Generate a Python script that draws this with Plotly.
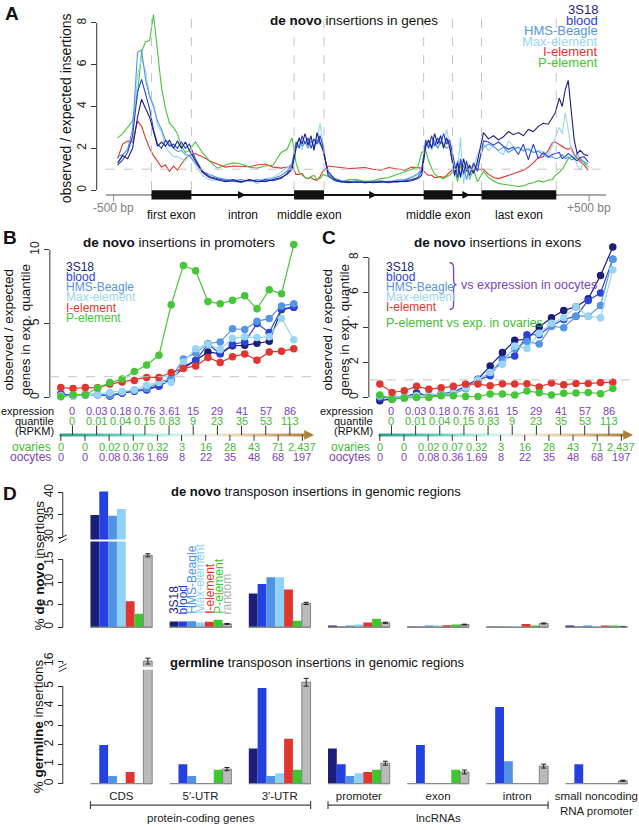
import plotly.graph_objects as go

W, H = 639, 830
FONT = "Liberation Sans, Arial, Helvetica, sans-serif"
NARROW = "Liberation Sans Narrow, Liberation Sans, Arial, sans-serif"


def X(px):
    return px / W


def Y(py):
    return 1 - py / H


# ------------------------------------------------------------------ data
series = ["3S18", "blood", "HMS-Beagle", "Max-element", "I-element", "P-element"]
c_3s18 = "#1b1f78"
c_blood = "#2a43d8"
c_hms = "#5596e4"
c_max = "#9bd5f4"
c_iel = "#e3352f"
c_pel = "#45c638"
c_rand = "#b9bbbb"
PURPLE = "#7c3fc6"
GREEN_TXT = "#44bb33"

# Panel A: metagene position (-500 bp = 0, +500 bp = 477)
gene_pos = [4, 9, 14, 19, 24, 28, 32, 36,
            40, 44, 48, 52, 56, 60, 64, 68, 72, 76,
            82, 89, 96, 104, 112, 120, 128, 136, 144, 152, 160, 168, 174, 179,
            183, 186, 189, 192, 195, 198, 201, 204, 207, 210,
            215, 222, 229, 236, 244, 252, 260, 268, 276, 284, 292, 299, 305, 309,
            313, 316, 319, 322, 325, 328, 331, 334, 337,
            342, 345, 348, 351, 354, 357, 361, 365,
            371, 376, 381, 386, 391, 396, 401, 406, 411, 416, 421, 426, 431, 436, 440, 443,
            447, 450, 453, 456, 459, 462, 465, 468, 472, 476]
exon_starts = [38, 181, 311, 369]
exon_ends = [78, 211, 340, 444]
exon_labels = ["first exon", "middle exon", "middle exon", "last exon"]
flank_ticks = [0, 477]
flank_labels = ["-500 bp", "+500 bp"]

a_pelem = [2.5, 2.7, 3.0, 3.3, 4.6, 6.6, 7.1, 7.15,
           8.4, 6.6, 4.9, 3.9, 3.2, 3.0, 2.7, 2.1, 1.8, 1.9,
           2.3, 1.8, 1.4, 1.05, 1.2, 1.3, 1.25, 1.1, 1.05, 1.15, 1.2, 1.8, 1.95, 2.5,
           1.3, 0.85, 0.7, 0.6, 0.55, 0.65, 0.7, 0.5, 0.55, 0.75,
           0.65, 0.45, 0.4, 0.5, 0.5, 0.42, 0.45, 0.55, 0.6, 0.75, 0.9, 1.0, 1.1, 1.8,
           1.9, 1.4, 1.05, 0.75, 0.65, 0.6, 0.55, 0.65, 0.7,
           1.0, 0.4, 1.2, 0.7, 1.3, 0.5, 1.0, 0.4,
           0.9, 0.6, 0.45, 0.32, 0.28, 0.25, 0.22, 0.17, 0.2, 0.3, 0.35, 0.45, 0.38, 0.48, 0.5, 0.7,
           0.85, 1.0, 1.25, 1.5, 1.6, 1.55, 1.5, 1.45, 1.3, 1.1]
a_ielem = [1.5, 2.2, 2.35, 2.3, 3.3, 3.05, 2.5, 2.0,
           1.65, 1.4, 1.1, 1.2, 0.9, 1.15, 0.95, 1.25, 1.5, 1.65,
           1.75, 1.6, 1.4, 1.25, 1.1, 1.15, 1.15, 1.12, 1.2, 1.25, 1.1, 1.05, 1.1, 1.2,
           0.75, 0.75, 0.8, 0.6, 0.55, 0.6, 0.5, 0.48, 0.65, 0.9,
           1.15, 1.1, 1.05, 1.03, 1.05, 1.08, 1.0, 0.95, 1.08, 1.0, 0.95, 1.1, 1.08, 1.05,
           0.8, 0.7, 0.72, 0.6, 0.62, 0.65, 0.6, 0.7, 0.85,
           1.1, 0.9, 1.3, 0.8, 1.0, 0.7, 1.2, 1.0,
           1.0, 0.75, 0.6, 0.55, 0.62, 0.7, 0.78, 0.87, 0.95, 1.1, 1.3, 1.55, 1.6, 1.9, 2.25, 2.3,
           2.2, 2.1, 2.0, 1.95, 2.05, 1.7, 1.55, 1.35, 1.2, 0.95]
a_3s18 = [1.3, 1.65, 1.5, 2.0, 3.5, 4.35, 3.9, 3.5,
          2.8, 2.1, 2.3, 2.1, 2.4, 2.0, 2.35, 2.0, 2.3, 1.9,
          1.4, 0.85, 0.6, 0.5, 0.4, 0.45, 0.38, 0.5, 0.42, 0.4, 0.5, 0.6, 0.75, 1.0,
          2.0, 2.5, 2.2, 2.7, 2.15, 2.6, 1.9, 2.75, 2.3, 1.9,
          0.9, 0.5, 0.4, 0.35, 0.4, 0.35, 0.38, 0.4, 0.35, 0.42, 0.4, 0.45, 0.55, 0.7,
          2.1, 2.4, 2.0, 2.7, 2.2, 2.6, 2.0, 2.5, 2.1,
          0.7, 1.3, 0.6, 1.5, 0.9, 1.2, 0.8, 1.4,
          2.75, 2.45, 2.6, 2.4, 2.55, 2.8, 2.65, 2.75, 2.6, 2.9, 2.8, 3.05, 3.2, 3.15, 3.5, 3.7,
          4.4, 4.0, 4.8, 5.25, 3.8, 2.4, 1.75, 1.9, 1.7, 1.65]
a_blood = [1.2, 1.45, 1.8, 2.6, 4.7, 5.3, 4.6, 3.9,
           2.9, 2.2, 2.0, 2.4, 2.1, 2.2, 2.0, 2.3, 2.0, 2.2,
           1.5, 0.9, 0.65, 0.55, 0.45, 0.5, 0.4, 0.48, 0.4, 0.5, 0.45, 0.55, 0.8, 1.15,
           2.3, 2.0, 2.6, 2.2, 2.5, 2.0, 2.45, 2.2, 2.6, 2.1,
           0.7, 0.45, 0.38, 0.42, 0.36, 0.4, 0.35, 0.38, 0.42, 0.38, 0.45, 0.5, 0.6, 0.9,
           2.4, 2.0, 2.6, 2.1, 2.5, 2.2, 2.7, 2.2, 2.4,
           1.2, 0.6, 1.5, 0.8, 1.4, 0.7, 1.3, 0.9,
           2.35, 2.3, 2.15, 2.3, 2.1, 1.95, 2.05, 1.7, 2.2, 1.45, 2.2, 1.5, 1.8, 1.6, 1.7, 1.75,
           1.8, 1.5, 1.6, 1.75, 1.65, 1.5, 1.4, 1.55, 1.6, 1.35]
a_hms = [1.6, 1.7, 1.95, 2.9, 6.6, 6.7, 5.3, 4.5,
         4.0, 3.3, 2.9, 2.4, 2.2, 2.0, 1.85, 1.9, 1.7, 1.65,
         1.3, 0.9, 0.75, 0.6, 0.5, 0.45, 0.5, 0.42, 0.5, 0.45, 0.55, 0.7, 0.9, 1.3,
         2.2, 2.4, 2.1, 2.3, 2.0, 2.35, 2.1, 2.4, 2.2, 2.0,
         0.8, 0.55, 0.45, 0.4, 0.45, 0.38, 0.42, 0.45, 0.4, 0.48, 0.5, 0.6, 0.75, 1.0,
         2.2, 2.3, 2.1, 2.4, 2.0, 2.3, 2.2, 2.0, 2.1,
         0.9, 1.4, 0.7, 1.2, 0.5, 1.1, 0.8, 1.2,
         2.05, 2.2, 2.1, 1.9, 2.05, 1.8, 1.95, 2.05, 1.9, 1.95, 1.8, 1.85, 1.7, 1.55, 1.6, 1.5,
         1.55, 1.7, 1.5, 1.6, 1.45, 1.5, 1.75, 1.5, 1.35, 1.25]
a_max = [1.2, 1.7, 1.9, 2.5, 5.5, 6.3, 5.7, 4.5,
         4.1, 3.1, 2.8, 2.1, 1.8, 1.6, 1.6, 1.5, 1.4, 1.7,
         1.2, 0.7, 0.5, 0.45, 0.55, 0.4, 0.35, 0.5, 0.3, 0.55, 0.6, 0.85, 1.1, 1.2,
         2.0, 2.2, 1.9, 2.4, 2.1, 2.5, 2.0, 2.3, 3.2, 2.2,
         0.75, 0.5, 0.42, 0.38, 0.42, 0.35, 0.4, 0.42, 0.38, 0.45, 0.5, 0.65, 0.8, 1.0,
         2.0, 2.2, 1.9, 2.3, 2.0, 2.4, 2.1, 2.9, 2.2,
         0.6, 1.0, 2.5, 0.3, 1.3, 0.6, 1.1, 1.7,
         2.2, 1.9, 2.1, 1.85, 1.7, 2.35, 2.1, 2.0, 1.85, 2.0, 1.8, 1.9, 1.85, 1.7, 2.1, 2.45,
         3.0, 2.7, 3.7, 2.9, 1.9, 1.6, 1.2, 0.95, 1.4, 1.1]

# Panels B/C: 20 expression quantiles (5 % each)
quantile = list(range(20))
b_3s18 = [0.2, 0.1, 0.2, 0.2, 0.1, 0.3, 0.45, 0.55, 0.8, 1.25, 2.0, 2.5, 3.08, 2.95, 3.5, 3.53, 3.66, 3.8, 5.95, 6.1]
b_blood = [0.25, 0.12, 0.2, 0.18, 0.12, 0.3, 0.42, 0.5, 0.75, 1.2, 2.1, 2.5, 3.6, 2.98, 3.6, 3.75, 5.0, 4.4, 6.0, 6.1]
b_hms = [0.15, 0.1, 0.15, 0.2, 0.15, 0.35, 0.5, 0.6, 1.0, 1.3, 2.6, 3.0, 3.65, 3.75, 4.65, 4.6, 5.15, 5.35, 6.2, 6.35]
b_max = [0.1, 0.08, 0.2, 0.2, 0.35, 0.4, 0.5, 0.83, 1.0, 1.0, 2.4, 3.3, 3.6, 3.25, 4.0, 4.1, 4.05, 4.1, 5.35, 3.9]
b_ielem = [0.67, 0.6, 0.67, 0.65, 0.9, 1.05, 1.15, 1.35, 1.35, 1.69, 1.96, 2.13, 2.7, 2.36, 2.76, 2.94, 2.52, 3.08, 3.12, 3.3]
b_pelem = [0.05, 0.18, 0.18, 0.63, 1.0, 1.24, 1.75, 2.2, 2.85, 6.27, 8.94, 8.58, 6.5, 6.34, 6.58, 6.88, 6.0, 7.3, 7.03, 10.36]
b_ref = 1.4

c_3s18_v = [-0.19, -0.1, 0.0, 0.25, 0.1, 0.15, 0.25, 0.66, 1.04, 1.8, 2.56, 3.26, 3.32, 4.02, 4.55, 4.97, 5.18, 5.63, 6.96, 8.59]
c_blood_v = [-0.05, 0.0, 0.05, 0.2, 0.1, 0.2, 0.3, 0.6, 1.0, 1.23, 2.18, 2.37, 3.58, 3.58, 4.1, 4.45, 4.64, 5.54, 5.97, 7.9]
c_hms_v = [0.05, 0.0, 0.0, 0.1, 0.1, 0.2, 0.2, 0.5, 1.0, 1.42, 2.14, 2.79, 3.2, 3.05, 4.07, 3.98, 4.64, 4.64, 5.25, 7.9]
c_max_v = [0.1, 0.0, 0.05, 0.1, 0.15, 0.15, 0.25, 0.55, 1.0, 1.42, 1.9, 2.94, 2.79, 3.66, 4.23, 4.55, 5.18, 4.64, 4.55, 7.3]
c_ielem_v = [0.76, 0.28, 0.38, 0.63, 0.47, 0.55, 0.63, 0.76, 0.76, 0.66, 0.78, 0.76, 0.78, 0.6, 0.82, 0.72, 0.8, 0.8, 0.85, 0.87]
c_pelem_v = [0.13, -0.1, -0.05, 0.0, 0.0, 0.1, 0.1, 0.05, 0.05, 0.2, 0.19, 0.13, 0.36, 0.27, 0.13, 0.23, 0.25, 0.28, 0.21, 0.51]
c_ref = 1.0

# expression-quantile axis labels (RPKM)
mid_oocytes = ["0", "0.03", "0.18", "0.76", "3.61", "15", "29", "41", "57", "86"]
mid_ovaries = ["0", "0.01", "0.04", "0.15", "0.83", "9", "23", "35", "53", "113"]
bound_ovaries = ["0", "0", "0.02", "0.07", "0.32", "3", "16", "28", "43", "71", "2,437"]
bound_oocytes = ["0", "0", "0.08", "0.36", "1.69", "8", "22", "35", "48", "68", "197"]

# Panel D
regions = ["CDS", "5′-UTR", "3′-UTR", "promoter", "exon", "intron", "small noncoding<br>RNA promoter"]
d_names = ["3S18", "blood", "HMS-Beagle", "Max-element", "I-element", "P-element", "random"]
dn_3s18 = [35.0, 1.3, 7.5, 0.3, 0.15, 0.08, 0.25]
dn_blood = [40.2, 1.3, 9.6, 0.1, 0.15, 0.08, 0.12]
dn_hms = [34.8, 1.35, 11.1, 0.35, 0.2, 0.1, 0.35]
dn_max = [36.3, 1.05, 11.1, 0.6, 0.2, 0.1, 0.15]
dn_iel = [5.8, 1.2, 8.4, 1.05, 0.45, 0.75, 0.2]
dn_pel = [3.0, 1.65, 1.45, 1.9, 0.6, 0.3, 0.25]
dn_rand = [16.0, 0.75, 5.3, 1.0, 0.6, 0.85, 0.15]
dn_rand_err = [0.35, 0.1, 0.25, 0.12, 0.08, 0.1, 0.04]

gl_3s18 = [0, 0, 1.8, 1.8, 0, 0, 0]
gl_blood = [1.98, 1.0, 4.9, 1.0, 1.98, 3.93, 1.0]
gl_hms = [0.4, 0.4, 0.4, 0.4, 0, 1.15, 0]
gl_max = [0, 0, 0.53, 0.53, 0, 0, 0]
gl_iel = [0.6, 0, 2.3, 0.6, 0, 0, 0]
gl_pel = [0, 0.72, 0.72, 0.72, 0.72, 0, 0]
gl_rand = [16.0, 0.75, 5.2, 1.05, 0.6, 0.9, 0.15]
gl_rand_err = [0.15, 0.08, 0.2, 0.1, 0.1, 0.1, 0.03]

region_groups = ["protein-coding genes", "lncRNAs"]
region_group_span = [(0, 2), (3, 5)]

# ------------------------------------------------------------------ figure
fig = go.Figure()
ann = []
shapes = []


def text(x, y, s, size=12, color="#222", xanchor="center", yanchor="middle",
         xref="paper", yref="paper", angle=0, family=FONT):
    ann.append(dict(x=x, y=y, text=s, xref=xref, yref=yref, showarrow=False,
                    xanchor=xanchor, yanchor=yanchor, textangle=angle,
                    font=dict(size=size, color=color, family=family)))


def line(x0, y0, x1, y1, xref="paper", yref="paper", color="#333", width=1, dash=None):
    d = dict(type="line", x0=x0, y0=y0, x1=x1, y1=y1, xref=xref, yref=yref,
             line=dict(color=color, width=width))
    if dash:
        d["line"]["dash"] = dash
    shapes.append(d)


# ---------------- Panel A
for vals, col in [(a_ielem, c_iel), (a_pelem, c_pel), (a_max, c_max),
                  (a_hms, c_hms), (a_blood, c_blood), (a_3s18, c_3s18)]:
    fig.add_trace(go.Scatter(x=gene_pos, y=vals, mode="lines",
                             line=dict(color=col, width=1.1),
                             xaxis="x", yaxis="y", hoverinfo="skip", showlegend=False))

track_y = -0.23
ax_left, ax_right = flank_ticks[0] - 8, flank_ticks[1] + 17
line(ax_left, track_y, ax_right, track_y, "x", "y", "#8c8c8c", 1.5)
for t in flank_ticks:
    line(t, track_y, t, track_y - 0.32, "x", "y", "#8c8c8c", 1)
line(ax_left, 1, ax_right, 1, "x", "y", "#c4c4c4", 1, "dash")
for b in exon_starts + exon_ends:
    line(b, 0, b, 8.4, "x", "y", "#c4c4c4", 1, "dash")
line(exon_starts[0], track_y, exon_ends[-1], track_y, "x", "y", "#111", 2)
for s0, s1 in zip(exon_starts, exon_ends):
    shapes.append(dict(type="rect", x0=s0, x1=s1, y0=-0.45, y1=-0.01, xref="x", yref="y",
                       fillcolor="#111", line=dict(width=0)))
for e_end, s_next in zip(exon_ends[:-1], exon_starts[1:]):
    mid = (e_end + s_next) / 2
    ann.append(dict(x=mid + 3, y=track_y, ax=mid - 3, ay=track_y, xref="x", yref="y",
                    axref="x", ayref="y", showarrow=True, arrowhead=2, arrowsize=1.1,
                    arrowwidth=1.4, arrowcolor="#111", text=""))
line(X(97), 0, X(97), 8, "paper", "y", "#333", 1)

for t, lab in zip(flank_ticks, flank_labels):
    text(t, Y(207.5), lab, 12, "#808080", xref="x")
for s0, s1, lab in zip(exon_starts, exon_ends, exon_labels):
    text((s0 + s1) / 2, Y(215), lab, 12, "#111", xref="x")
text((exon_ends[0] + exon_starts[1]) / 2, Y(215), "intron", 12, "#111", xref="x")

text(X(12), Y(13), "<b>A</b>", 19, "#111")
text(X(355), Y(20), "<b>de novo</b> insertions in genes", 13.5, "#111")
text(X(67), Y(108), "observed / expected insertions", 14, "#111", angle=-90)
for i, (nm, col) in enumerate(zip(series, [c_3s18, c_blood, c_hms, c_max, c_iel, c_pel])):
    text(X(602), Y(8.5 + i * 10.65), nm, 13, col, xanchor="right")

# ---------------- Panels B and C
STRIP_SCALE = [[0.0, "#2a9d84"], [0.25, "#6fd3c4"], [0.45, "#cdf3ef"],
               [0.6, "#f1e9da"], [0.8, "#d9bb8a"], [1.0, "#a57a2a"]]
step = 1.97


def expr_panel(xa, ya, ys, letter, title, xoff, vals, ymax_tick, ref):
    for v, col in vals:
        fig.add_trace(go.Scatter(x=quantile, y=v, mode="lines+markers",
                                 line=dict(color=col, width=1.2),
                                 marker=dict(color=col, size=7.5),
                                 cliponaxis=False,
                                 xaxis=xa, yaxis=ya, hoverinfo="skip", showlegend=False))
    n = len(quantile)
    x0, xe, xt = -0.1, n - 1 + 0.85, n - 1 + 1.65
    fig.add_trace(go.Scatter(x=[x0, xe, xe, xt, xe, xe, x0, x0],
                             y=[-1.5, -1.5, -4.8, 0, 4.8, 1.5, 1.5, -1.5],
                             mode="lines", fill="toself",
                             line=dict(width=0, color="rgba(0,0,0,0)"),
                             fillgradient=dict(type="horizontal", colorscale=STRIP_SCALE),
                             xaxis=xa, yaxis=ys, hoverinfo="skip", showlegend=False))
    for k in range(len(bound_ovaries)):
        line(k * step, 0, k * step, -6, xa, ys, "#333", 1)
        text(k * step, Y(447.7), bound_ovaries[k], 11, GREEN_TXT, xref=xa, family=NARROW)
        text(k * step, Y(458.3), bound_oocytes[k], 11, PURPLE, xref=xa, family=NARROW)
    for k in range(len(mid_oocytes)):
        xm = k * step + 0.95
        line(xm, 0, xm, 9.5, xa, ys, "#333", 1)
        text(xm, Y(412), mid_oocytes[k], 11, PURPLE, xref=xa, family=NARROW)
        text(xm, Y(421.7), mid_ovaries[k], 11, GREEN_TXT, xref=xa, family=NARROW)
    text(-0.4, Y(412), "expression", 11, "#111", xanchor="right", xref=xa)
    text(-0.4, Y(421.7), "quantile", 11, "#111", xanchor="right", xref=xa)
    text(-0.4, Y(431.7), "(RPKM)", 11, "#111", xanchor="right", xref=xa)
    text(-0.6, Y(447.7), "ovaries", 12, GREEN_TXT, xanchor="right", xref=xa)
    text(-0.6, Y(458.3), "oocytes", 12, PURPLE, xanchor="right", xref=xa)

    line(X(xoff), 0, X(xoff), ymax_tick, "paper", ya, "#333", 1)
    line(X(xoff), ref, X(xoff + 270), ref, "paper", ya, "#c4c4c4", 1, "dash")
    text(X(xoff - 40), Y(238), f"<b>{letter}</b>", 19, "#111")
    text(X(xoff + 130), Y(243), title, 13.5, "#111")
    text(X(xoff - 33), Y(330), "observed / expected<br>genes in exp. quantile", 13.5,
         "#111", angle=-90)


expr_panel("x2", "y2", "y8", "B", "<b>de novo</b> insertions in promoters", 50,
           [(b_3s18, c_3s18), (b_blood, c_blood), (b_hms, c_hms), (b_max, c_max),
            (b_ielem, c_iel), (b_pelem, c_pel)], 10, b_ref)
expr_panel("x3", "y3", "y9", "C", "<b>de novo</b> insertions in exons", 370,
           [(c_3s18_v, c_3s18), (c_blood_v, c_blood), (c_hms_v, c_hms), (c_max_v, c_max),
            (c_ielem_v, c_iel), (c_pelem_v, c_pel)], 8, c_ref)

for i, (nm, col) in enumerate(zip(series, [c_3s18, c_blood, c_hms, c_max, c_iel, c_pel])):
    text(X(64), Y(267 + i * 10.3), nm, 12, col, xanchor="left")
for i, (nm, col) in enumerate(zip(series[:5], [c_3s18, c_blood, c_hms, c_max, c_iel])):
    text(X(385), Y(267 + i * 10.1), nm, 12, col, xanchor="left")
pts = [(451, 263), (455, 263), (455, 268), (455, 280), (455, 285), (458, 285),
       (455, 285), (455, 290), (455, 305), (455, 310), (451, 310)]
P = [(X(a), Y(b)) for a, b in pts]
path = (f"M {P[0][0]},{P[0][1]} Q {P[1][0]},{P[1][1]} {P[2][0]},{P[2][1]} "
        f"L {P[3][0]},{P[3][1]} Q {P[4][0]},{P[4][1]} {P[5][0]},{P[5][1]} "
        f"Q {P[6][0]},{P[6][1]} {P[7][0]},{P[7][1]} L {P[8][0]},{P[8][1]} "
        f"Q {P[9][0]},{P[9][1]} {P[10][0]},{P[10][1]}")
shapes.append(dict(type="path", path=path, xref="paper", yref="paper",
                   line=dict(color=PURPLE, width=1.3)))
text(X(460), Y(285), "vs expression in oocytes", 12.5, PURPLE, xanchor="left")
text(X(385), Y(324), "P-element vs exp. in ovaries", 12.5, GREEN_TXT, xanchor="left")

# ---------------- Panel D
d_cols = [c_3s18, "#2441e0", "#4f92e6", "#8fd2f5", c_iel, "#3ec830", c_rand]
denovo = [dn_3s18, dn_blood, dn_hms, dn_max, dn_iel, dn_pel, dn_rand]
germ = [gl_3s18, gl_blood, gl_hms, gl_max, gl_iel, gl_pel, gl_rand]
for xa, ya, data, err in [("x4", "y4", denovo, dn_rand_err), ("x5", "y5", denovo, None),
                          ("x6", "y6", germ, gl_rand_err), ("x7", "y7", germ, gl_rand_err)]:
    for i, (nm, vals, col) in enumerate(zip(d_names, data, d_cols)):
        kw = {}
        if nm == "random":
            kw["marker_line"] = dict(color="#6f6f6f", width=0.8)
            if err is not None:
                kw["error_y"] = dict(type="data", array=err, color="#222",
                                     thickness=1, width=2.5)
        else:
            kw["marker_line"] = dict(width=0)
        fig.add_trace(go.Bar(x=regions, y=vals, name=nm, marker_color=col,
                             xaxis=xa, yaxis=ya, hoverinfo="skip", showlegend=False, **kw))

half = 0.39
for k in range(len(regions)):
    line(k - half, 0, k + half, 0, "x4", "y4", "#8a8a8a", 1.3)
    line(k - half, 0, k + half, 0, "x6", "y6", "#8a8a8a", 1.3)
for i, (nm, col) in enumerate(zip(d_names, d_cols)):
    xb = 1 - half + (i + 0.5) * (2 * half / len(d_names))
    text(xb, Y(618), nm, 12, col if nm != "random" else "#b0b0b0",
         xanchor="center", yanchor="bottom", xref="x4", angle=-90)

for (a, b), lab in zip(region_group_span, region_groups):
    line(a - half, Y(808), b + half, Y(808), "x6", "paper", "#444", 1.2)
    line(a - half, Y(804), a - half, Y(812), "x6", "paper", "#444", 1.2)
    line(b + half, Y(804), b + half, Y(812), "x6", "paper", "#444", 1.2)
    text((a + b) / 2, Y(821), lab, 11.5, "#222", xref="x6")

yx = X(63)
line(yx, 0, yx, 15, "paper", "y4", "#333", 1)
line(yx, 30, yx, 40, "paper", "y5", "#333", 1)
line(yx, 0, yx, 5, "paper", "y6", "#333", 1)
line(yx, 15.85, yx, 16, "paper", "y7", "#333", 1)
for py in (538.5, 542.5):
    line(X(59), Y(py + 2), X(67), Y(py - 2), color="#333", width=1)
for py in (668, 672):
    line(X(59), Y(py + 2), X(67), Y(py - 2), color="#333", width=1)

text(X(10), Y(495), "<b>D</b>", 19, "#111")
text(X(170), Y(493), "<b>de novo</b> transposon insertions in genomic regions", 13, "#111",
     xanchor="left")
text(X(169), Y(664.5), "<b>germline</b> transposon insertions in genomic regions", 13, "#111",
     xanchor="left")
text(X(39), Y(567), "% <b>de novo</b> insertions", 13.5, "#111", angle=-90)
text(X(39), Y(729), "% <b>germline</b> insertions", 13.5, "#111", angle=-90)

# ------------------------------------------------------------------ axes
yst = dict(showline=False, showgrid=False, zeroline=False, ticks="outside", ticklen=5,
           tickwidth=1, tickcolor="#333", tickangle=-90,
           tickfont=dict(size=12, color="#222", family=FONT))
hid = dict(visible=False)
dx = [X(82), X(638)]
fig.update_layout(
    width=W, height=H, margin=dict(l=0, r=0, t=0, b=0),
    paper_bgcolor="white", plot_bgcolor="rgba(0,0,0,0)",
    showlegend=False, font=dict(family=FONT, size=12, color="#222"),
    barmode="group", bargap=0.22, bargroupgap=0,
    xaxis=dict(domain=[X(97), X(615)], range=[-17, 501], anchor="y", **hid),
    yaxis=dict(domain=[Y(205), Y(12)], range=[-0.714, 8.476], anchor="x",
               tickvals=[0, 2, 4, 6, 8], **yst),
    xaxis2=dict(domain=[X(50), X(318)], range=[-0.894, 20.894], anchor="y2", **hid),
    yaxis2=dict(domain=[Y(403), Y(242)], range=[-0.317, 10.54], anchor="x2",
                tickvals=[0, 5, 10], **yst),
    xaxis3=dict(domain=[X(370), X(638)], range=[-0.894, 20.894], anchor="y3", **hid),
    yaxis3=dict(domain=[Y(403), Y(242)], range=[-0.267, 8.89], anchor="x3",
                tickvals=[0, 2, 4, 6, 8], **yst),
    xaxis4=dict(domain=dx, anchor="y4", showticklabels=False, ticks="", showgrid=False,
                showline=False, zeroline=False),
    yaxis4=dict(domain=[Y(632), Y(543)], range=[-0.6, 19.1], anchor="free", position=yx,
                tickvals=[0, 5, 10, 15], **yst),
    xaxis5=dict(domain=dx, anchor="y5", matches="x4", showticklabels=False, ticks="",
                showgrid=False, showline=False, zeroline=False),
    yaxis5=dict(domain=[Y(541), Y(485)], range=[29.56, 41.95], anchor="free", position=yx,
                tickvals=[30, 35, 40], **yst),
    xaxis6=dict(domain=dx, anchor="y6", matches="x4", ticks="", showgrid=False,
                showline=False, zeroline=False,
                tickfont=dict(size=11.5, color="#222", family=FONT)),
    yaxis6=dict(domain=[Y(790), Y(672)], range=[-0.18, 5.84], anchor="free", position=yx,
                tickvals=[0, 1, 2, 3, 4, 5], **yst),
    xaxis7=dict(domain=dx, anchor="y7", matches="x4", showticklabels=False, ticks="",
                showgrid=False, showline=False, zeroline=False),
    yaxis7=dict(domain=[Y(669), Y(655)], range=[15.71, 16.42], anchor="free", position=yx,
                tickvals=[16], **yst),
    yaxis8=dict(domain=[Y(447), Y(425)], range=[-11, 11], anchor="x2", **hid),
    yaxis9=dict(domain=[Y(447), Y(425)], range=[-11, 11], anchor="x3", **hid),
    annotations=ann, shapes=shapes,
)

fig.write_html("out.html", config={"displayModeBar": False},
               post_script="document.body.style.margin='0';")
